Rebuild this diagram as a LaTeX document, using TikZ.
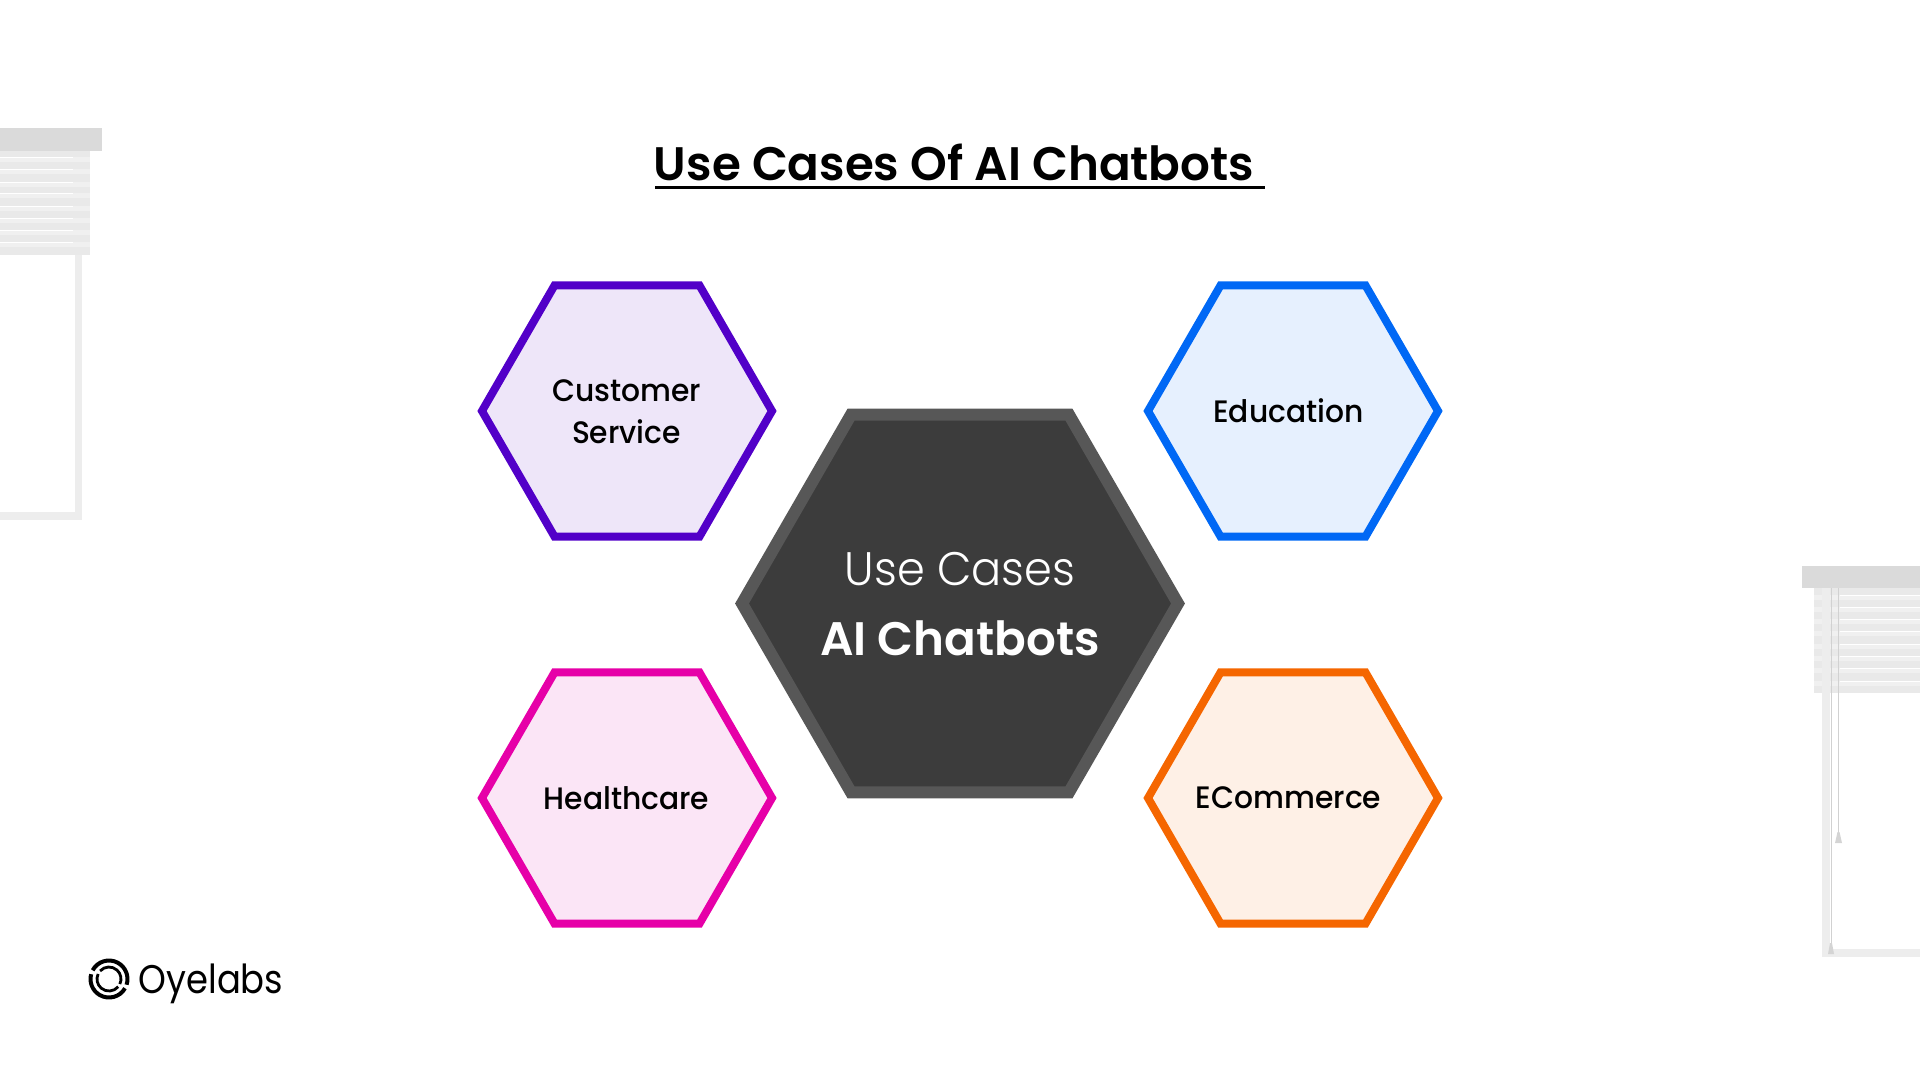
\documentclass[tikz,border=0pt]{standalone}
\usepackage{fontspec}
\usetikzlibrary{shapes.geometric}
\setmainfont{Poppins}
\newfontfamily\medf[FakeStretch=0.96]{Poppins Medium}
\newfontfamily\lightf[FakeStretch=0.95]{Poppins Light}
\newfontfamily\boldf[FakeStretch=0.995]{Poppins SemiBold}
\newfontfamily\logof[FakeStretch=0.885]{Poppins}
\definecolor{purp}{HTML}{5200C8}
\definecolor{purpf}{HTML}{EEE6F9}
\definecolor{blu}{HTML}{0068F5}
\definecolor{bluf}{HTML}{E6F0FE}
\definecolor{pnk}{HTML}{E600A8}
\definecolor{pnkf}{HTML}{FBE5F6}
\definecolor{org}{HTML}{F56600}
\definecolor{orgf}{HTML}{FEF0E6}
\definecolor{hdr}{HTML}{DADADA}
\definecolor{slat}{HTML}{E9E9E9}
\definecolor{slatb}{HTML}{F0F0F0}
\definecolor{fram}{HTML}{EDEDED}
\tikzset{
 hexa/.style={regular polygon,regular polygon sides=6,minimum size=290pt,inner sep=0pt,outer sep=0pt,line width=8pt},
 hexlbl/.style={inner sep=0pt,outer sep=0pt,align=center,font=\medf\fontsize{31}{42}\selectfont,text=black},
 centerhex/.style={regular polygon,regular polygon sides=6,minimum size=436pt,inner sep=0pt,outer sep=0pt,line width=12pt,draw=black!66,fill=black!76.5},
 lbl/.style={inner sep=0pt,outer sep=0pt,anchor=base},
}
\begin{document}
\begin{tikzpicture}[x=1pt,y=-1pt]
\useasboundingbox (0,0) rectangle (1920,1080);
% left blind
\fill[slat] (0,151) rectangle (90,255);
\foreach \yy in {157,169,182,193,206,218,230,242}{
  \fill[slatb] (0,\yy) rectangle (90,\yy+5);
  \fill[white] (0,\yy) rectangle (73,\yy+1.2);}
\fill[hdr] (0,128) rectangle (102,151);
\fill[fram] (75,255) rectangle (82,520);
\fill[fram] (0,512) rectangle (82,520);
% right blind
\fill[slat] (1814,588) rectangle (1920,693);
\foreach \yy in {595,607,619,631,644,656,668,681}{
  \fill[slatb] (1814,\yy) rectangle (1920,\yy+5);
  \fill[white] (1840,\yy) rectangle (1920,\yy+1.2);}
\fill[hdr] (1802,566) rectangle (1920,588);
\fill[fram] (1822,588) rectangle (1830,957);
\fill[fram] (1822,949) rectangle (1920,957);
\draw[black!18,line width=0.8pt] (1831,588) -- (1831,945);
\draw[black!18,line width=0.8pt] (1838.5,588) -- (1838.5,835);
\fill[black!17] (1835,843) -- (1842,843) -- (1839.5,832) -- (1837.5,832) -- cycle;
\fill[black!17] (1828,954) -- (1834,954) -- (1832,943) -- (1830,943) -- cycle;
% title
\node[lbl,font=\boldf\fontsize{47}{47}\selectfont] (title) at (954,180) {Use Cases Of AI Chatbots};
\fill[black] (655,186) rectangle (1265,188.5);
% hexagons
\node[hexa,draw=purp,fill=purpf] (cs) at (627,411) {};
\node[hexa,draw=blu,fill=bluf] (ed) at (1293,411) {};
\node[hexa,draw=pnk,fill=pnkf] (hc) at (627,798) {};
\node[hexa,draw=org,fill=orgf] (ec) at (1293,798) {};
\node[hexlbl] (csl) at (626.5,412) {Customer\\Service};
\node[hexlbl] (edl) at (1288.5,411) {Education};
\node[hexlbl] (hcl) at (626.5,798) {Healthcare};
\node[hexlbl] (ecl) at (1288.5,798) {ECommerce};
\node[centerhex] (ctr) at (960,603.5) {};
\node[lbl,text=white,font=\lightf\fontsize{47}{47}\selectfont] (uc) at (960,585) {Use Cases};
\node[lbl,text=white,font=\boldf\fontsize{47}{47}\selectfont] (ai) at (960,655) {AI Chatbots};
% logo
\begin{scope}[black]
\draw[line width=4pt] (109,979) ++(30:18.5) arc (30:195:18.5);
\draw[line width=4pt] (109,979) ++(208:18.5) arc (208:378:18.5);
\draw[line width=2.8pt] (109,979) ++(40:12) arc (40:205:12);
\draw[line width=2.8pt] (109,979) ++(222:12) arc (222:385:12);
\end{scope}
\node[lbl,font=\logof\fontsize{40}{40}\selectfont] (logo) at (211,993) {Oyelabs};
\end{tikzpicture}
\end{document}
